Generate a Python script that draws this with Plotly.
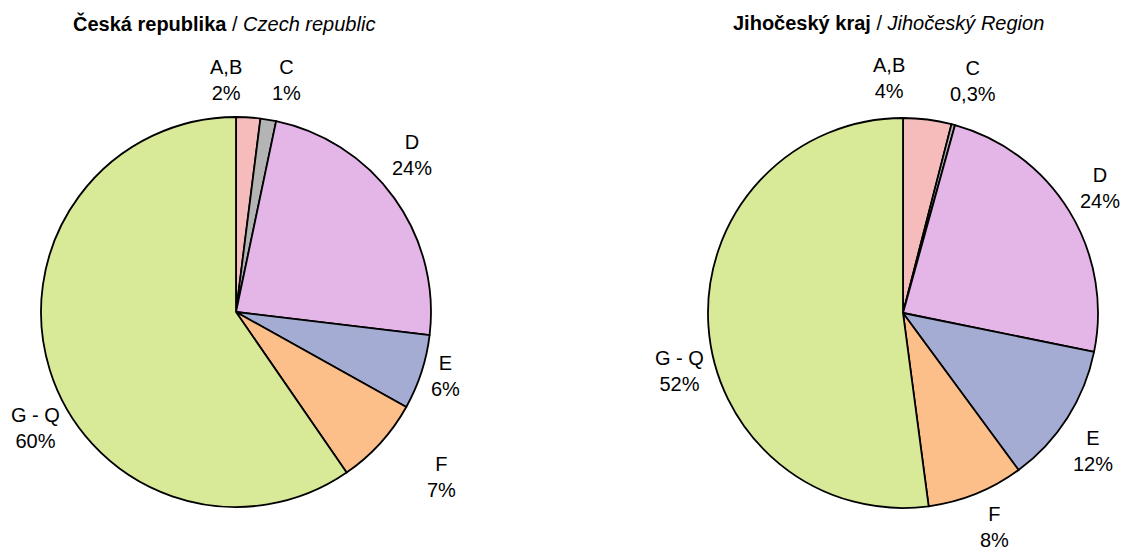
import math
import plotly.graph_objects as go

sections = ['A,B', 'C', 'D', 'E', 'F', 'G - Q']
cz_values = [2.0, 1.3, 23.6, 6.2, 7.3, 59.6]
jc_values = [4.0, 0.3, 23.9, 11.7, 8.0, 52.1]
cz_pct = ['2%', '1%', '24%', '6%', '7%', '60%']
jc_pct = ['4%', '0,3%', '24%', '12%', '8%', '52%']

colors = ['#f6bcbc', '#b4b4b4', '#e4b6e8', '#a4acd4', '#fcbf8a', '#d8ea98']
font = 'Liberation Sans, Arial, sans-serif'

W, H = 1130, 554
# label nudges (px), to mimic the Excel label placement
cz_nudge = [(-25, 1), (12, -2), (-13, -21), (-12, -8), (33, 8), (22, 47)]
jc_nudge = [(-43, -4), (10, -7), (-2, -3), (-6, 13), (4, -2), (9, 43)]


def add_pie(fig, values, pct, cx, cy, r, nudge):
    # cx, cy, r in pixels (cy from top)
    fig.add_trace(go.Pie(
        labels=sections, values=values,
        textinfo='none', sort=False, direction='clockwise', rotation=0,
        marker=dict(colors=colors, line=dict(color='black', width=1.8)),
        domain=dict(x=[(cx - r) / W, (cx + r) / W],
                    y=[(H - cy - r) / H, (H - cy + r) / H]),
        showlegend=False, hoverinfo='label+value',
    ))
    total = sum(values)
    cum = 0
    for lab, v, p, (nx, ny) in zip(sections, values, pct, nudge):
        ang = 2 * math.pi * (cum + v / 2) / total
        cum += v
        lx = cx + (r + 38) * math.sin(ang) + nx
        ly = cy - (r + 38) * math.cos(ang) + ny
        fig.add_annotation(text=f'{lab}<br>{p}', x=lx / W, y=1 - ly / H,
                           xref='paper', yref='paper', showarrow=False,
                           xanchor='center', yanchor='middle',
                           font=dict(family=font, size=20, color='black'))


fig = go.Figure()
add_pie(fig, cz_values, cz_pct, 228, 304, 195, cz_nudge)
add_pie(fig, jc_values, jc_pct, 895, 305, 195, jc_nudge)

fig.add_annotation(text='<b>Česká republika</b> / <i>Czech republic</i>',
                   x=216 / W, y=1 - 15 / H, xref='paper', yref='paper', showarrow=False,
                   xanchor='center', yanchor='middle',
                   font=dict(family=font, size=20, color='black'))
fig.add_annotation(text='<b>Jihočeský kraj</b> / <i>Jihočeský Region</i>',
                   x=880 / W, y=1 - 15 / H, xref='paper', yref='paper', showarrow=False,
                   xanchor='center', yanchor='middle',
                   font=dict(family=font, size=20, color='black'))

fig.update_layout(width=W, height=H, margin=dict(l=0, r=0, t=0, b=0),
                  paper_bgcolor='white', plot_bgcolor='white')
fig.write_html("out.html")
